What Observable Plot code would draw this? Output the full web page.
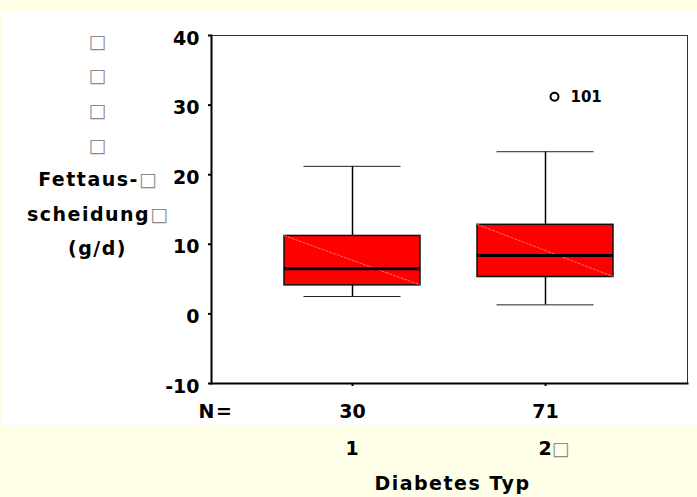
<!DOCTYPE html>
<html>
<head>
<meta charset="utf-8">
<script src="https://cdn.jsdelivr.net/npm/d3@7"></script>
<script src="https://cdn.jsdelivr.net/npm/@observablehq/plot@0.6"></script>
<style>
  html, body { margin: 0; padding: 0; background: #FFFFE8; width: 697px; height: 497px; overflow: hidden; }
  #panel { position: absolute; left: 2px; top: 12px; width: 695px; height: 413px; background: #FFFFFF; }
  #chart { position: absolute; left: 0; top: 0; }
</style>
</head>
<body>
<div id="panel"></div>
<div id="chart"></div>
<script>
// ---- data ----
const groups = ["1", "2"];
const groupLabels = ["1", "2\u25A1"];
const counts = [30, 71];
const lowWhisker = [2.5, 1.3];
const q1 = [4.1, 5.3];
const median = [6.5, 8.4];
const q3 = [11.2, 12.8];
const highWhisker = [21.2, 23.3];
const outlierGroups = ["2"];
const outlierValues = [31.2];
const outlierLabels = ["101"];
const yTicks = [-10, 0, 10, 20, 30, 40];
const yLabel = "\u25A1\n\u25A1\n\u25A1\n\u25A1\nFettaus-\u25A1\nscheidung\u25A1\n(g/d)";
const xLabel = "Diabetes Typ";
const nLabel = "N=";

const rows = groups.map((g, i) => ({
  group: g, label: groupLabels[i], n: counts[i],
  lo: lowWhisker[i], q1: q1[i], med: median[i], q3: q3[i], hi: highWhisker[i]
}));
const outliers = outlierGroups.map((g, i) => ({group: g, value: outlierValues[i], label: outlierLabels[i]}));

const PI = 0.294, PO = 0.374;

// faint diagonal sheen inside each box (top-left to bottom-right)
function diagonal(index, scales, values, dimensions) {
  const g = d3.create("svg:g");
  let bw = scales.x && scales.x.bandwidth;
  if (typeof bw === "function") bw = bw();
  if (!(bw > 0)) {
    const w = dimensions.width - dimensions.marginLeft - dimensions.marginRight;
    bw = w / (2 - PI + 2 * PO) * (1 - PI);
  }
  for (const i of index) {
    g.append("line")
      .attr("x1", values.x[i]).attr("y1", values.y2[i])
      .attr("x2", values.x[i] + bw).attr("y2", values.y1[i])
      .attr("stroke", "#ff8a8a").attr("stroke-width", 0.8).attr("stroke-dasharray", "3,1");
  }
  return g.node();
}

const svg = Plot.plot({
  width: 697,
  height: 497,
  marginTop: 35,
  marginRight: 10,
  marginBottom: 114,
  marginLeft: 211,
  style: {background: "transparent", fontFamily: "'DejaVu Sans', sans-serif", fontWeight: "bold", fontSize: "19px", color: "black", overflow: "visible"},
  x: {type: "band", domain: groups, paddingInner: PI, paddingOuter: PO, axis: null},
  y: {domain: [-10, 40], axis: null},
  marks: [
    Plot.frame({stroke: "#333", strokeWidth: 1}),
    Plot.frame({anchor: "left", stroke: "black", strokeWidth: 2}),
    Plot.frame({anchor: "bottom", stroke: "black", strokeWidth: 2}),
    Plot.axisY({ticks: yTicks, tickSize: 3, tickFormat: () => "", label: null, strokeWidth: 2}),
    Plot.axisY({ticks: yTicks, tickSize: 0, tickPadding: 12, tickFormat: d => String(d), label: null, fontSize: 19, fontWeight: "bold", dy: 3}),
    Plot.axisX({ticks: groups, tickSize: 3, tickFormat: () => "", label: null, strokeWidth: 2}),
    Plot.ruleX(rows, {x: "group", y1: "lo", y2: "q1", stroke: "black", strokeWidth: 1.5}),
    Plot.ruleX(rows, {x: "group", y1: "q3", y2: "hi", stroke: "black", strokeWidth: 1.5}),
    Plot.tickY(rows, {x: "group", y: "lo", insetLeft: 19.5, insetRight: 19.5, stroke: "#222", strokeWidth: 1}),
    Plot.tickY(rows, {x: "group", y: "hi", insetLeft: 19.5, insetRight: 19.5, stroke: "#222", strokeWidth: 1}),
    Plot.barY(rows, {x: "group", y1: "q1", y2: "q3", fill: "#FF0000", stroke: "#111", strokeWidth: 1.5}),
    Plot.barY(rows, {x: "group", y1: "q1", y2: "q3", fill: "none", render: diagonal}),
    Plot.tickY(rows, {x: "group", y: "med", stroke: "black", strokeWidth: 3}),
    Plot.dot(outliers, {x: "group", y: "value", r: 4, dx: 9, stroke: "black", strokeWidth: 2, fill: "none"}),
    Plot.text(outliers, {x: "group", y: "value", text: "label", dx: 25, textAnchor: "start", fontSize: 15, fontWeight: "bold"}),
    Plot.text(rows, {x: "group", text: d => String(d.n), frameAnchor: "bottom", dy: 34}),
    Plot.text(rows, {x: "group", text: "label", frameAnchor: "bottom", dy: 71, textAnchor: "start", dx: -7}),
    Plot.text([nLabel], {frameAnchor: "bottom-left", dx: -13, dy: 34, textAnchor: "start"}),
    Plot.text([xLabel], {frameAnchor: "bottom", dx: 3, dy: 106}),
    Plot.text([yLabel], {frameAnchor: "left", dx: -114, dy: -69, lineHeight: 1.82, textAnchor: "middle"})
  ]
});

// placeholder squares in thin grey (like missing-glyph boxes); wider lettering for word labels
d3.select(svg).selectAll("text, tspan").each(function () {
  const t = this.textContent;
  if (this.children.length === 0 && /[A-Za-z]/.test(t)) {
    this.setAttribute("letter-spacing", "1.5px");
  }
  if (this.children.length === 0 && t.includes("\u25A1")) {
    this.innerHTML = t.replace(/\u25A1/g, '<tspan fill="#8a8a8a" font-weight="normal" letter-spacing="0">\u25A1</tspan>');
  }
});

document.getElementById("chart").appendChild(svg);
</script>
</body>
</html>
